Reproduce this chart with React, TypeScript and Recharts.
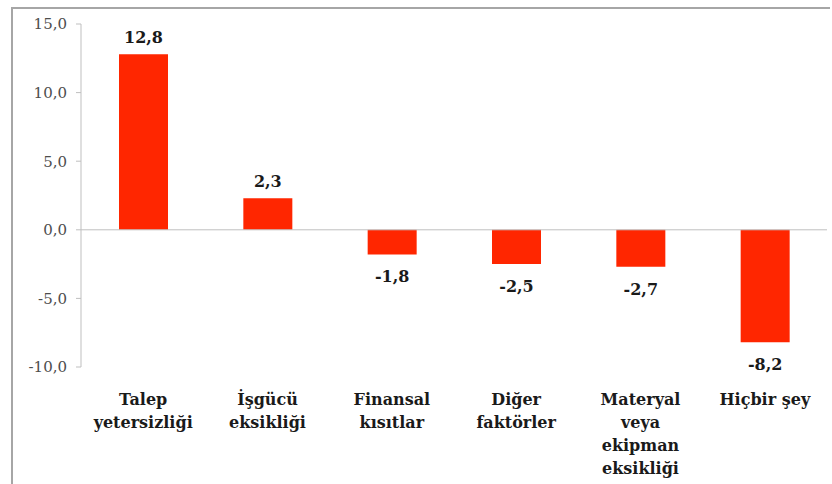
import { BarChart, Bar, XAxis, YAxis, ReferenceLine, LabelList } from 'recharts';

const categories = [
  'Talep\nyetersizliği',
  'İşgücü\neksikliği',
  'Finansal\nkısıtlar',
  'Diğer\nfaktörler',
  'Materyal\nveya\nekipman\neksikliği',
  'Hiçbir şey',
];
const values = [12.8, 2.3, -1.8, -2.5, -2.7, -8.2];
const yTicks = [-10, -5, 0, 5, 10, 15];

const data = categories.map((name, i) => ({ name, value: values[i] }));

const fmt = (v: number) => v.toFixed(1).replace('.', ',');
const FONT = '"DejaVu Serif", serif';

const CategoryTick = (props: any) => {
  const { x, y, payload } = props;
  const lines = String(payload.value).split('\n');
  return (
    <g transform={`translate(${x},${y})`}>
      {lines.map((line, i) => (
        <text
          key={i}
          x={0}
          y={i * 23}
          dy={30}
          textAnchor='middle'
          fontFamily={FONT}
          fontWeight='bold'
          fontSize={16}
          fill='#1a1a1a'
        >
          {line}
        </text>
      ))}
    </g>
  );
};

const ValueLabel = (props: any) => {
  const { x, y, width, height, value } = props;
  const cx = x + width / 2;
  // height is negative for negative bars in recharts
  const top = Math.min(y, y + height);
  const bottom = Math.max(y, y + height);
  const ty = value >= 0 ? top - 11 : bottom + 28;
  return (
    <text x={cx} y={ty} textAnchor='middle' fontFamily={FONT} fontWeight='bold' fontSize={16} fill='#1a1a1a'>
      {fmt(value)}
    </text>
  );
};

const App = () => (
  <div style={{ position: 'fixed', left: 0, top: 0, width: 832, height: 484, background: '#fff' }}>
    <div
      style={{
        position: 'absolute',
        left: 11,
        top: 7,
        width: 817,
        height: 477,
        borderLeft: '2px solid #a6a6a6',
        borderTop: '2px solid #a6a6a6',
      }}
    />
    <BarChart
      width={832}
      height={484}
      data={data}
      margin={{ top: 24, right: 5, left: 0, bottom: 0 }}
      barSize={49}
      style={{ position: 'absolute', left: 0, top: 0 }}
    >
      <XAxis
        dataKey='name'
        axisLine={false}
        tickLine={false}
        height={117}
        interval={0}
        tick={<CategoryTick />}
      />
      <YAxis
        domain={[-10, 15]}
        ticks={yTicks}
        width={81}
        tickFormatter={fmt}
        axisLine={{ stroke: '#bfbfbf' }}
        tickLine={{ stroke: '#bfbfbf' }}
        tickSize={5}
        tickMargin={9}
        tick={{ fontFamily: FONT, fontSize: 15, fill: '#4d4d4d' }}
        interval={0}
      />
      <ReferenceLine y={0} stroke='#bfbfbf' strokeWidth={1} />
      <Bar dataKey='value' fill='#ff2600' isAnimationActive={false}>
        <LabelList dataKey='value' content={<ValueLabel />} />
      </Bar>
    </BarChart>
  </div>
);

export default App;
